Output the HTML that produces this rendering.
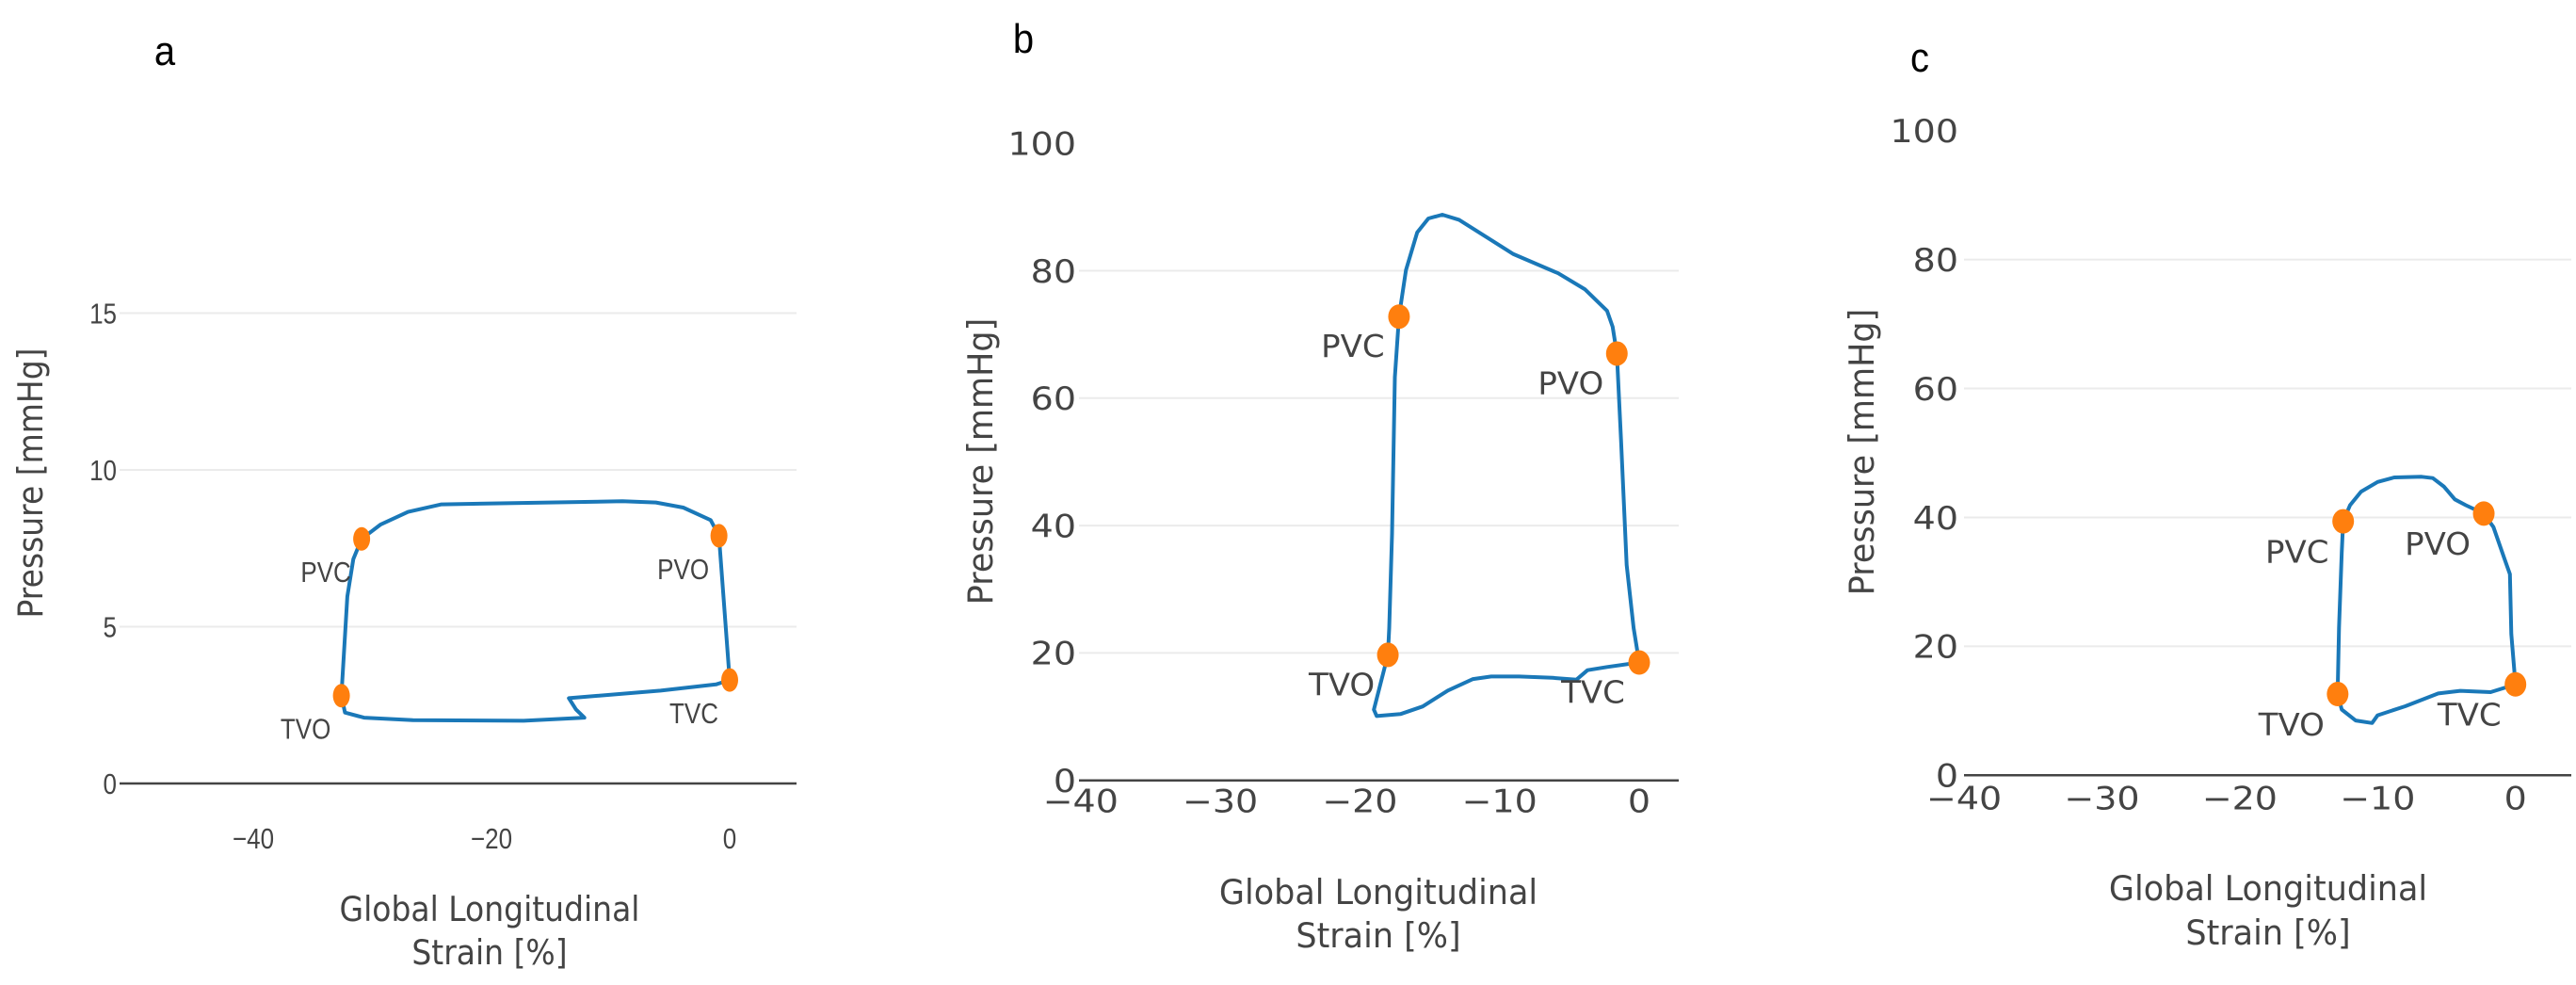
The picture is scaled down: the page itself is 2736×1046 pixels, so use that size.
<!DOCTYPE html>
<html><head><meta charset="utf-8"><style>
html,body{margin:0;padding:0;background:#fff;}
svg{display:block;}
</style></head><body>
<svg id="fig" width="2736" height="1046" viewBox="0 0 2736 1046" xmlns="http://www.w3.org/2000/svg"></svg>
<script>
// Panel a data
const aStrain = [0,-0.9,-1.6,-3.9,-6.2,-9,-24.2,-27,-29.3,-30.9,-31.6,-32.1,-32.6,-32.3,-30.7,-26.6,-17.3,-12.2,-12.9,-13.5,-5.8,-1.15,0];
const aPressure = [3.3,7.9,8.4,8.8,8.96,9.0,8.9,8.66,8.26,7.8,7.16,5.96,2.8,2.26,2.1,2.02,2.0,2.1,2.36,2.72,2.96,3.16,3.3];
const aEventNames = ["PVC","PVO","TVO","TVC"];
const aEventX = [-30.9,-0.9,-32.6,0];
const aEventY = [7.8,7.9,2.8,3.3];
const aXTicks = [-40,-20,0];
const aYTicks = [0,5,10,15];
// Panel b data
const bStrain = [0,-0.4,-0.9,-1.3,-1.6,-1.9,-2.3,-3.9,-5.8,-9,-12.9,-14.1,-15.1,-15.9,-16.7,-17.2,-17.5,-17.7,-17.9,-18.0,-19.0,-18.8,-17.1,-15.5,-13.7,-11.9,-10.6,-8.6,-6.2,-4.5,-3.7,-2.3,0];
const bPressure = [18.5,23.9,33.8,53.5,67,71.2,73.7,77.1,79.6,82.6,88,88.8,88.2,86,80.1,72.8,63.3,38.7,23.9,19.7,11.1,10.1,10.4,11.6,14.1,15.9,16.3,16.3,16.1,15.8,17.3,17.8,18.5];
const bEventNames = ["PVC","PVO","TVO","TVC"];
const bEventX = [-17.2,-1.6,-18.0,0];
const bEventY = [72.8,67,19.7,18.5];
const bXTicks = [-40,-30,-20,-10,0];
const bYTicks = [0,20,40,60,80,100];
// Panel c data
const cStrain = [0,-0.3,-0.4,-0.8,-1.6,-2.3,-3.6,-4.4,-5.2,-6,-6.8,-8.8,-10,-11.2,-12,-12.5,-12.6,-12.8,-12.9,-12.6,-11.6,-10.4,-10,-8,-5.6,-4,-1.8,0];
const cPressure = [14.1,21.9,31.2,33.6,38.5,40.6,41.9,42.8,44.8,46.1,46.3,46.2,45.5,44,41.9,39.4,34.6,22.9,12.6,10.2,8.5,8.1,9.3,10.7,12.7,13.1,12.9,14.1];
const cEventNames = ["PVC","PVO","TVO","TVC"];
const cEventX = [-12.5,-2.3,-12.9,0];
const cEventY = [39.4,40.6,12.6,14.1];
const cXTicks = [-40,-30,-20,-10,0];
const cYTicks = [0,20,40,60,80,100];

const NS="http://www.w3.org/2000/svg";
const svg=document.getElementById('fig');
function mk(tag,attrs,parent,text){const e=document.createElementNS(NS,tag);for(const k in attrs)e.setAttribute(k,attrs[k]);if(text!==undefined)e.textContent=text;(parent||svg).appendChild(e);return e;}
// text centered vertically at cy; st = vertical stretch
function txt(parent,x,cy,str,fam,fs,st,anchor,fill,rot){
  let tr=rot?`translate(${x},${cy}) rotate(-90) translate(0,${0.36*fs*st}) scale(1,${st})`
            :`translate(${x},${cy+0.36*fs*st}) scale(1,${st})`;
  return mk('text',{x:0,y:0,transform:tr,'text-anchor':anchor,'font-family':fam,'font-size':fs,fill:fill},parent,str);
}

function panel(id,cfg,xs,ys,evN,evX,evY,xt,yt){
  const g=mk('g',{});
  
  
  const X=v=>cfg.x0+v*cfg.xu, Y=v=>cfg.y0-v*cfg.yu;
  const fam=cfg.font;
  const lab=txt(g,cfg.lx,cfg.ly,id,'Liberation Sans, sans-serif',40,1.1,'middle','#000');
  
  
  yt.forEach(t=>{
    if(t!==0 && !(cfg.noTopGrid && t===yt[yt.length-1])){
      const gl=mk('line',{x1:cfg.pl,x2:cfg.pr,y1:Y(t),y2:Y(t),stroke:'#ebebeb','stroke-width':2},g);
      
      
    }
    const tl=txt(g,cfg.ytx,Y(t),String(t),fam,cfg.tfs,cfg.tst,'end','#444');
    
    
  });
  const zl=mk('line',{x1:cfg.pl,x2:cfg.pr,y1:Y(0),y2:Y(0),stroke:'#444','stroke-width':2.5},g);
  
  
  xt.forEach(t=>{
    const tl=txt(g,X(t),cfg.xty,(t<0?'\u2212'+(-t):String(t)),fam,cfg.tfs,cfg.tst,'middle','#444');
    
    
  });
  let d='';
  xs.forEach((v,i)=>{d+=(i?'L':'M')+X(v).toFixed(1)+','+Y(ys[i]).toFixed(1);});
  const p=mk('path',{d:d,fill:'none',stroke:'#1a78b8','stroke-width':4,'stroke-linejoin':'round'},g);
  
  
  evN.forEach((n,i)=>{
    const c=mk('ellipse',{cx:X(evX[i]),cy:Y(evY[i]),rx:cfg.rx,ry:cfg.ry,fill:'#ff7f0e'},g);
    
    
    const t=txt(g,X(evX[i])+cfg.adx,Y(evY[i])+cfg.ady,n,fam,cfg.afs,cfg.ast,'middle','#444');
    
    
  });
  const yt1=txt(g,cfg.ytitx,cfg.ytity,'Pressure [mmHg]','DejaVu Sans, sans-serif',cfg.ttfs,cfg.ttst,'middle','#444',true);
  
  
  const xt1=txt(g,cfg.xtitx,cfg.xtity1,'Global Longitudinal','DejaVu Sans, sans-serif',cfg.ttfs,cfg.ttst,'middle','#444');
  
  
  const xt2=txt(g,cfg.xtitx,cfg.xtity2,'Strain [%]','DejaVu Sans, sans-serif',cfg.ttfs,cfg.ttst,'middle','#444');
  
  
}

panel('a',{x0:775,xu:12.65,y0:832,yu:33.3,pl:127,pr:846,lx:175,ly:53,ytx:124,xty:890,tfs:26,tst:1.17,afs:26,ast:1.17,
  ttfs:33,ttst:1.1,font:'Liberation Sans, sans-serif',rx:9,ry:12.5,adx:-38,ady:35,ytitx:32,ytity:513,xtitx:520,xtity1:965,xtity2:1011},
  aStrain,aPressure,aEventNames,aEventX,aEventY,aXTicks,aYTicks);
panel('b',{x0:1741,xu:14.83,y0:828.7,yu:6.765,pl:1146,pr:1783,lx:1087,ly:40,ytx:1143,xty:850,tfs:38,tst:0.9,afs:34,ast:0.97,
  ttfs:35,ttst:1.04,font:'DejaVu Sans, sans-serif',rx:11.5,ry:13,adx:-49,ady:31,noTopGrid:true,ytitx:1041,ytity:490,xtitx:1464,xtity1:947,xtity2:993},
  bStrain,bPressure,bEventNames,bEventX,bEventY,bXTicks,bYTicks);
panel('c',{x0:2671.7,xu:14.64,y0:823.3,yu:6.846,pl:2086,pr:2731,lx:2039,ly:60,ytx:2080,xty:847,tfs:38,tst:0.9,afs:34,ast:0.97,
  ttfs:35,ttst:1.04,font:'DejaVu Sans, sans-serif',rx:11.5,ry:13,adx:-49,ady:32,noTopGrid:true,ytitx:1977,ytity:480,xtitx:2409,xtity1:943,xtity2:990},
  cStrain,cPressure,cEventNames,cEventX,cEventY,cXTicks,cYTicks);
</script>
</body></html>
